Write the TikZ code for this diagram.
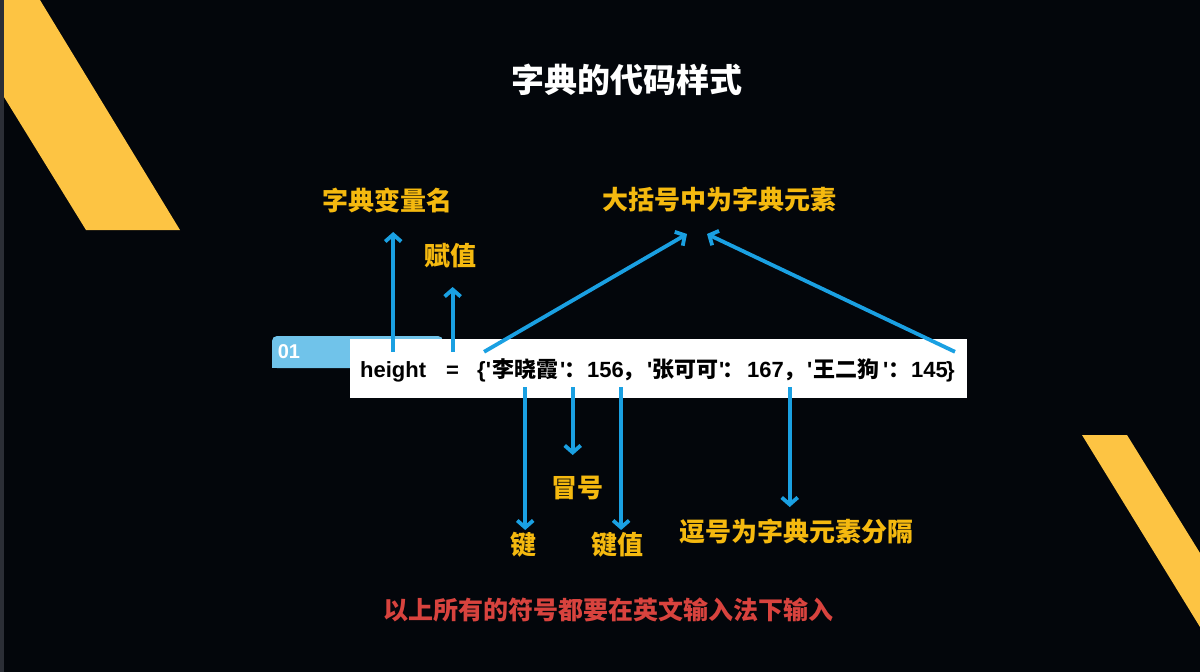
\documentclass[tikz,border=0pt]{standalone}
\usepackage{fontspec}
\setmainfont{Liberation Sans}
\newfontfamily\cjk{Noto Sans CJK SC}
\usetikzlibrary{arrows.meta}
\definecolor{bgblack}{HTML}{03060B}
\definecolor{edgegray}{HTML}{2B2E36}
\definecolor{stripe}{HTML}{FDC443}
\definecolor{arrowblue}{HTML}{1AA0E2}
\definecolor{hintyellow}{HTML}{F5B90F}
\definecolor{warnred}{HTML}{D8433E}
\definecolor{tabblue}{HTML}{70C3EA}
\newcommand{\q}{\textquotesingle}
\tikzset{
    >={Straight Barb[length=7pt,width=16pt]},
    arr/.style={draw=arrowblue, line width=3.8pt, ->},
    code/.style={
        anchor=base west,
        inner xsep=0pt, inner ysep=5pt,
        text height=20pt, text depth=5pt,
        text=black,
        font=\fontsize{22}{26}\selectfont\bfseries
    },
    codecjk/.style={code, font=\fontsize{22}{26}\selectfont\cjk\bfseries},
    punct/.style={codecjk, text width=9pt, align=left},
    hint/.style={text=hintyellow, font=\fontsize{26}{30}\selectfont\cjk\bfseries},
    headline/.style={text=white, font=\fontsize{33}{38}\selectfont\cjk\bfseries},
    warn/.style={text=warnred, font=\fontsize{25}{30}\selectfont\cjk\bfseries},
}
\begin{document}
\begin{tikzpicture}[x=1pt, y=-1pt]
% background and stripes
\fill[bgblack] (0,0) rectangle (1200,672);
\useasboundingbox (0,0) rectangle (1200,672);
\fill[edgegray] (0,0) rectangle (4,672);
\fill[stripe] (4,0) -- (40,0) -- (180,230) -- (86,230) -- (4,97) -- cycle;
\fill[stripe] (1082,435) -- (1127,435) -- (1200,553) -- (1200,627) -- cycle;

\node[headline] (title) at (627,80) {字典的代码样式};

% tab and code line
\fill[tabblue, rounded corners=5pt] (272,336) rectangle (443,368);
\fill[tabblue] (272,356) rectangle (300,368);
\node[text=white, font=\fontsize{20}{24}\selectfont\bfseries] (num) at (289,352) {01};
\fill[white] (350,339) rectangle (967,398);

\node[code] (var) at (360,377) {height};
\node[code] (eq) at (446,377) {=};
\node[code] (lbrace) at (477,377) {\{\q};
\node[codecjk] (key1) at (492,377) {李晓霞};
\node[code] (q1) at (560,377) {\q};
\node[punct] (colon1) at (564,377) {：};
\node[code] (val1) at (587,377) {156};
\node[punct] (comma1) at (622,377) {，};
\node[code] (q2) at (647,377) {\q};
\node[codecjk] (key2) at (652,377) {张可可};
\node[code] (q3) at (719,377) {\q};
\node[punct] (colon2) at (722,377) {：};
\node[code] (val2) at (747,377) {167};
\node[punct] (comma2) at (783,377) {，};
\node[code] (q4) at (807,377) {\q};
\node[codecjk] (key3) at (813,377) {王二狗};
\node[code] (q5) at (883,377) {\q};
\node[punct] (colon3) at (888,377) {：};
\node[code] (val3) at (911,377) {145};
\node[code] (rbrace) at (946,377) {\}};

% labels
\node[hint] (lblvar) at (387,200) {字典变量名};
\node[hint] (lbleq) at (450,256) {赋值};
\node[hint] (lbldict) at (719,200) {大括号中为字典元素};
\node[hint] (lblcolon) at (577,488) {冒号};
\node[hint] (lblkey) at (523,545) {键};
\node[hint] (lblval) at (617,545) {键值};
\node[hint] (lblcomma) at (796,532) {逗号为字典元素分隔};
\node[warn] (rule) at (608,610) {以上所有的符号都要在英文输入法下输入};

% arrow tips
\coordinate (tipvar) at (393,232);
\coordinate (tipeq) at (453,287);
\coordinate (tipl) at (687,234);
\coordinate (tipr) at (707,234);
\coordinate (tipkey) at (525,530);
\coordinate (tipcolon) at (573,455);
\coordinate (tipval) at (618,530);
\coordinate (tipcomma) at (790,507);

\draw[arr] (var.north) -- (var.north |- tipvar);
\draw[arr] (eq.north) -- (eq.north |- tipeq);
\draw[arr] (lbrace.north) -- (tipl);
\draw[arr] (rbrace.north east) -- (tipr);
\draw[arr] (key1.south) -- (key1.south |- tipkey);
\draw[arr] ([xshift=4pt]colon1.south) -- ([xshift=4pt]colon1.south |- tipcolon);
\draw[arr] ([xshift=-3pt]val1.south east) -- ([xshift=-3pt]val1.south east |- tipval);
\draw[arr] ([xshift=2pt]comma2.south) -- ([xshift=2pt]comma2.south |- tipcomma);
\end{tikzpicture}
\end{document}
